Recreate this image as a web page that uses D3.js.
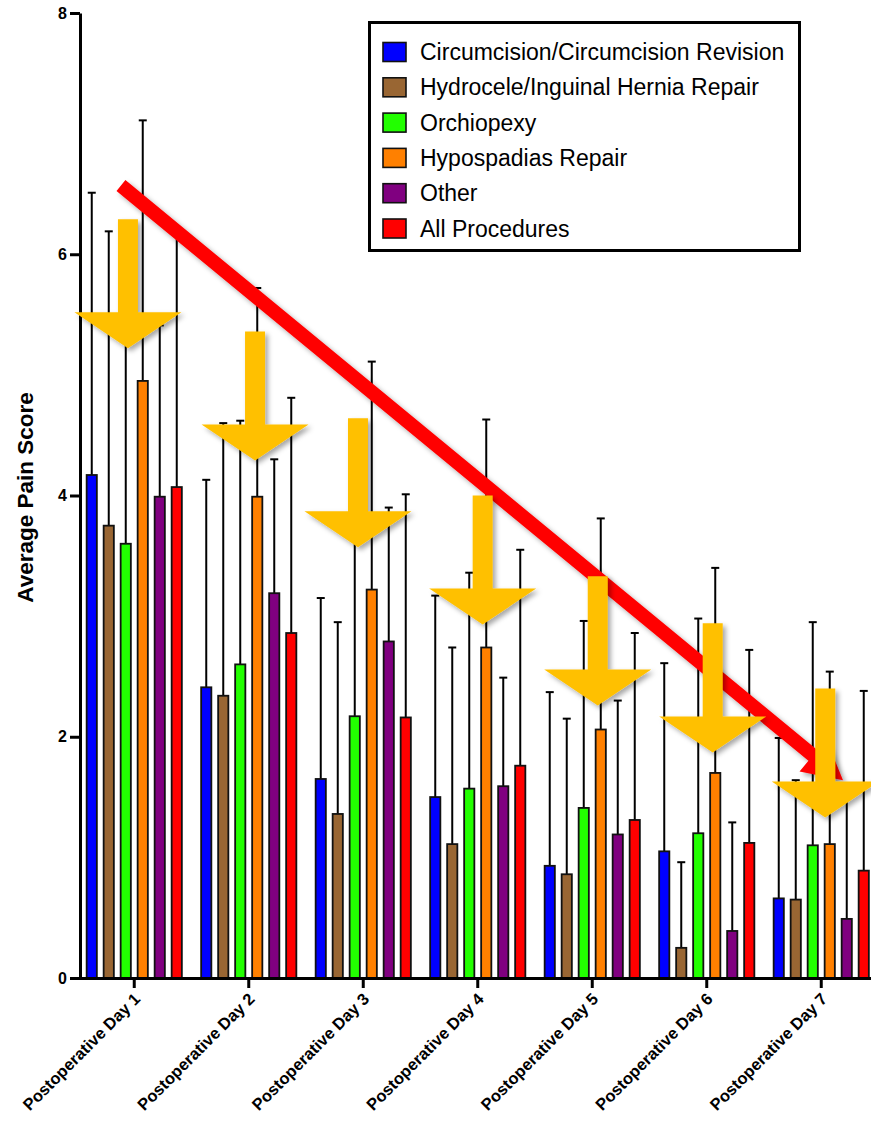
<!DOCTYPE html>
<html>
<head>
<meta charset="utf-8">
<script src="https://cdn.jsdelivr.net/npm/d3@7"></script>
<style>
  body { margin: 0; background: #fff; }
  svg { display: block; font-family: "Liberation Sans", Arial, Helvetica, sans-serif; }
</style>
</head>
<body>
<svg id="chart"></svg>
<script>
// categories
const days = [
  'Postoperative Day 1', 'Postoperative Day 2', 'Postoperative Day 3',
  'Postoperative Day 4', 'Postoperative Day 5', 'Postoperative Day 6',
  'Postoperative Day 7'
];
const procedures = [
  'Circumcision/Circumcision Revision',
  'Hydrocele/Inguinal Hernia Repair',
  'Orchiopexy',
  'Hypospadias Repair',
  'Other',
  'All Procedures'
];
const procColors = ['#0000ff', '#996633', '#22ff00', '#ff8000', '#800080', '#ff0000'];

// mean pain score per day
const circumcision = [4.17, 2.41, 1.65, 1.50, 0.93, 1.05, 0.66];
const hydrocele    = [3.75, 2.34, 1.36, 1.11, 0.86, 0.25, 0.65];
const orchiopexy   = [3.60, 2.60, 2.17, 1.57, 1.41, 1.20, 1.10];
const hypospadias  = [4.95, 3.99, 3.22, 2.74, 2.06, 1.70, 1.11];
const other        = [3.99, 3.19, 2.79, 1.59, 1.19, 0.39, 0.49];
const allProcs     = [4.07, 2.86, 2.16, 1.76, 1.31, 1.12, 0.89];

// upper error (SD)
const circumcisionSd = [2.34, 1.72, 1.50, 1.67, 1.44, 1.56, 1.33];
const hydroceleSd    = [2.44, 2.26, 1.59, 1.63, 1.29, 0.71, 0.99];
const orchiopexySd   = [2.10, 2.02, 1.79, 1.79, 1.55, 1.78, 1.85];
const hypospadiasSd  = [2.16, 1.73, 1.89, 1.89, 1.75, 1.70, 1.43];
const otherSd        = [1.42, 1.11, 1.11, 0.90, 1.11, 0.90, 1.01];
const allProcsSd     = [2.10, 1.95, 1.85, 1.79, 1.55, 1.60, 1.49];

const yTicks = [0, 2, 4, 6, 8];

// annotations (day number, pain score)
const trendStart = [0.884, 6.57];
const trendEnd = [7.19, 1.64];
const arrowDay = [0.945, 2.055, 2.954, 4.043, 5.048, 6.052, 7.035];
const arrowTop = [6.29, 5.36, 4.64, 4.00, 3.33, 2.94, 2.40];
const arrowLength = 1.07;

const means = [circumcision, hydrocele, orchiopexy, hypospadias, other, allProcs];
const sds = [circumcisionSd, hydroceleSd, orchiopexySd, hypospadiasSd, otherSd, allProcsSd];

const W = 871, H = 1121;
const svg = d3.select('#chart').attr('width', W).attr('height', H);

const defs = svg.append('defs');
defs.append('filter')
  .attr('id', 'shadow')
  .attr('x', '-20%').attr('y', '-20%').attr('width', '140%').attr('height', '140%')
  .append('feDropShadow')
  .attr('dx', 3).attr('dy', 3)
  .attr('stdDeviation', 2.5)
  .attr('flood-color', '#000')
  .attr('flood-opacity', 0.35);

const x = d3.scaleBand().domain(days).range([77, 878.5]).padding(0);
const xInner = d3.scaleBand().domain(procedures).range([6.25, 108.25]).padding(0);
const y = d3.scaleLinear().domain([0, 8]).range([978, 13]);
// continuous day position for annotations
const dayX = d3.scaleLinear().domain([1, 7])
  .range([x(days[0]) + x.bandwidth() / 2, x(days[6]) + x.bandwidth() / 2]);

const barW = xInner.bandwidth() * 0.6;

// bars + error bars
const groups = svg.append('g').selectAll('g')
  .data(days)
  .join('g')
  .attr('transform', d => `translate(${x(d)},0)`);

const cells = groups.selectAll('g')
  .data((d, di) => procedures.map((p, pi) => ({
    p, pi, mean: means[pi][di], sd: sds[pi][di]
  })))
  .join('g');

cells.append('line')
  .attr('x1', d => xInner(d.p) + xInner.bandwidth() / 2)
  .attr('x2', d => xInner(d.p) + xInner.bandwidth() / 2)
  .attr('y1', d => y(d.mean))
  .attr('y2', d => y(d.mean + d.sd))
  .attr('stroke', '#000')
  .attr('stroke-width', 2);

cells.append('line')
  .attr('x1', d => xInner(d.p) + xInner.bandwidth() / 2 - 4)
  .attr('x2', d => xInner(d.p) + xInner.bandwidth() / 2 + 4)
  .attr('y1', d => y(d.mean + d.sd))
  .attr('y2', d => y(d.mean + d.sd))
  .attr('stroke', '#000')
  .attr('stroke-width', 2);

cells.append('rect')
  .attr('x', d => xInner(d.p) + (xInner.bandwidth() - barW) / 2)
  .attr('width', barW)
  .attr('y', d => y(d.mean))
  .attr('height', d => y(0) - y(d.mean))
  .attr('fill', d => procColors[d.pi])
  .attr('stroke', '#111')
  .attr('stroke-width', 1.8);

// axes
const yAxis = svg.append('g')
  .attr('transform', 'translate(80,0)')
  .call(d3.axisLeft(y).tickValues(yTicks).tickSize(10).tickPadding(3).tickSizeOuter(0));
yAxis.select('.domain').attr('stroke-width', 3);
yAxis.selectAll('.tick line').attr('stroke-width', 3);
yAxis.selectAll('.tick text')
  .style('font-size', '16px').style('font-weight', 'bold')
  .style('font-family', '"Liberation Sans", Arial, sans-serif');

const xAxis = svg.append('g')
  .attr('transform', `translate(0,${y(0)})`)
  .call(d3.axisBottom(x).tickSize(10).tickSizeOuter(0).tickFormat(''));
xAxis.select('.domain').attr('stroke-width', 3);
xAxis.selectAll('.tick line').attr('stroke-width', 3);

svg.append('g').selectAll('text')
  .data(days)
  .join('text')
  .attr('transform', d => `translate(${x(d) + x.bandwidth() / 2 + 7},${y(0) + 22}) rotate(-45)`)
  .attr('text-anchor', 'end')
  .attr('font-size', 16.5)
  .attr('font-weight', 'bold')
  .text(d => d);

svg.append('text')
  .attr('transform', `translate(33,${(y(0) + y(8)) / 2 + 2}) rotate(-90)`)
  .attr('text-anchor', 'middle')
  .attr('font-size', 22.5)
  .attr('font-weight', 'bold')
  .text('Average Pain Score');

// red trend arrow
const p0 = [dayX(trendStart[0]), y(trendStart[1])];
const p1 = [dayX(trendEnd[0]), y(trendEnd[1])];
const len = Math.hypot(p1[0] - p0[0], p1[1] - p0[1]);
const ux = (p1[0] - p0[0]) / len, uy = (p1[1] - p0[1]) / len;
const headLen = 39, headHalf = 21, bodyHalf = 7;
const base = [p1[0] - ux * headLen, p1[1] - uy * headLen];
const nx = -uy, ny = ux;
const trendPts = [
  [p0[0] + nx * bodyHalf, p0[1] + ny * bodyHalf],
  [base[0] + nx * bodyHalf, base[1] + ny * bodyHalf],
  [base[0] + nx * headHalf, base[1] + ny * headHalf],
  p1,
  [base[0] - nx * headHalf, base[1] - ny * headHalf],
  [base[0] - nx * bodyHalf, base[1] - ny * bodyHalf],
  [p0[0] - nx * bodyHalf, p0[1] - ny * bodyHalf]
];
svg.append('path')
  .attr('d', d3.line()(trendPts) + 'Z')
  .attr('fill', '#ff0000')
  .attr('filter', 'url(#shadow)');

// yellow arrows
const shaftHalf = 10, arrowHeadHalf = 53.5, arrowHeadH = 36;
svg.append('g').selectAll('path')
  .data(arrowDay.map((d, i) => ({ day: d, top: arrowTop[i] })))
  .join('path')
  .attr('d', d => {
    const cx = dayX(d.day);
    const t = y(d.top);
    const tip = y(d.top - arrowLength);
    const hb = tip - arrowHeadH;
    return d3.line()([
      [cx - shaftHalf, t], [cx + shaftHalf, t], [cx + shaftHalf, hb],
      [cx + arrowHeadHalf, hb], [cx, tip], [cx - arrowHeadHalf, hb],
      [cx - shaftHalf, hb]
    ]) + 'Z';
  })
  .attr('fill', '#ffc000')
  .attr('filter', 'url(#shadow)');

// legend
const legend = svg.append('g');
legend.append('rect')
  .attr('x', 369.5).attr('y', 22.5)
  .attr('width', 430).attr('height', 228)
  .attr('fill', '#fff')
  .attr('stroke', '#000')
  .attr('stroke-width', 3);

const rows = legend.selectAll('g.row')
  .data(procedures)
  .join('g')
  .attr('class', 'row')
  .attr('transform', (d, i) => `translate(383,${52 + i * 35.3})`);
rows.append('rect')
  .attr('x', 0).attr('y', -9.5)
  .attr('width', 23).attr('height', 19)
  .attr('fill', (d, i) => procColors[i])
  .attr('stroke', '#111')
  .attr('stroke-width', 1.6);
rows.append('text')
  .attr('x', 37).attr('y', 8)
  .attr('font-size', 23)
  .text(d => d);
</script>
</body>
</html>
